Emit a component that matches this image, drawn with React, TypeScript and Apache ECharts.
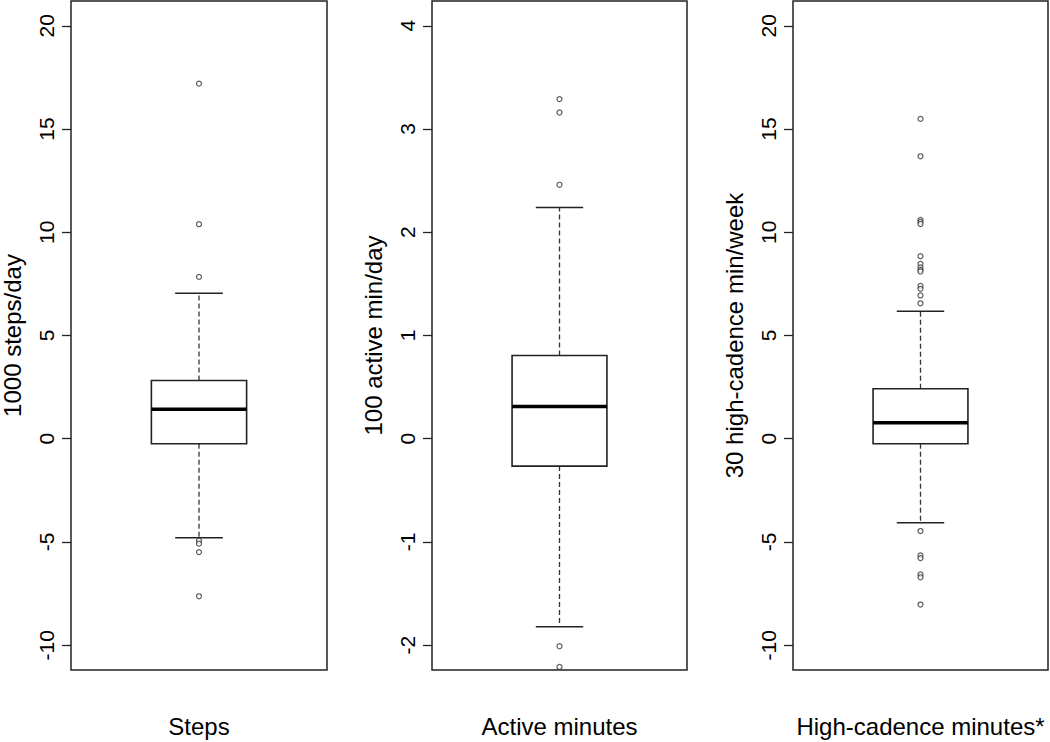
import React, { useEffect, useRef } from "react";
import * as echarts from "echarts";

const categories = ["Steps", "Active minutes", "High-cadence minutes*"];
const yTitles = ["1000 steps/day", "100 active min/day", "30 high-cadence min/week"];

// [lower whisker, Q1, median, Q3, upper whisker]
const stepsBox = [-4.79, -0.24, 1.43, 2.82, 7.05];
const activeBox = [-1.82, -0.265, 0.313, 0.806, 2.24];
const cadenceBox = [-4.07, -0.24, 0.77, 2.42, 6.18];

const stepsOutliers = [17.2, 10.39, 7.84, -4.94, -5.08, -5.49, -7.63];
const activeOutliers = [3.29, 3.16, 2.46, -2.01, -2.21];
const cadenceOutliers = [
  15.49, 13.68, 10.6, 10.5, 10.4, 8.84, 8.47, 8.3, 8.18, 8.1, 7.4, 7.26, 6.94, 6.56,
  -4.47, -5.65, -5.78, -6.57, -6.71, -8.03,
];

const stepsTicks = [-10, -5, 0, 5, 10, 15, 20];
const activeTicks = [-2, -1, 0, 1, 2, 3, 4];
const cadenceTicks = [-10, -5, 0, 5, 10, 15, 20];

const axisMin = [-11.2, -2.24, -11.2];
const axisMax = [21.2, 4.24, 21.2];

const boxes = [stepsBox, activeBox, cadenceBox];
const outliers = [stepsOutliers, activeOutliers, cadenceOutliers];
const ticks = [stepsTicks, activeTicks, cadenceTicks];

const FONT = "'Liberation Sans', Arial, Helvetica, sans-serif";
const INK = "#222";

export default function App() {
  const ref = useRef<HTMLDivElement>(null);
  useEffect(() => {
    if (!ref.current) return;
    const chart = echarts.init(ref.current, undefined, { renderer: "svg" });
    const lefts = [71, 432, 793];
    const widths = [256, 255, 255];
    const grid = lefts.map((l, i) => ({
      left: l,
      top: 1,
      width: widths[i],
      height: 669,
      show: true,
      borderColor: INK,
      borderWidth: 1.5,
      backgroundColor: "transparent",
      containLabel: false,
      outerBoundsMode: "none",
    }));
    const xAxis = categories.map((c, i) => ({
      type: "category",
      gridIndex: i,
      data: [c],
      axisLine: { show: false },
      axisTick: { show: false },
      axisLabel: { fontFamily: FONT, fontSize: 24, color: "#000", margin: 44 },
    }));
    const yAxis = ticks.map((t, i) => ({
      type: "value",
      gridIndex: i,
      min: axisMin[i],
      max: axisMax[i],
      splitLine: { show: false },
      axisLine: { show: false },
      axisTick: {
        show: true,
        inside: false,
        length: 9,
        customValues: t,
        lineStyle: { color: INK, width: 1.3 },
      },
      axisLabel: {
        customValues: t,
        rotate: 90,
        fontFamily: FONT,
        fontSize: 21,
        color: "#000",
        margin: 14,
      },
      name: yTitles[i],
      nameLocation: "middle",
      nameRotate: 90,
      nameGap: 47,
      nameTextStyle: { fontFamily: FONT, fontSize: 24, lineHeight: 24, color: "#000" },
    }));
    const series: any[] = [];
    boxes.forEach((b, i) => {
      series.push({
        type: "custom",
        xAxisIndex: i,
        yAxisIndex: i,
        data: [[0, ...b]],
        encode: { x: 0, y: [1, 2, 3, 4, 5] },
        renderItem: (params: any, api: any) => {
          const lo = api.value(1);
          const q1 = api.value(2);
          const med = api.value(3);
          const q3 = api.value(4);
          const hi = api.value(5);
          const cx = api.coord([0, med])[0];
          const yLo = api.coord([0, lo])[1];
          const yQ1 = api.coord([0, q1])[1];
          const yMed = api.coord([0, med])[1];
          const yQ3 = api.coord([0, q3])[1];
          const yHi = api.coord([0, hi])[1];
          const band = api.size([1, 0])[0];
          const bw = band * 0.372;
          const cw = bw / 2;
          const dash = { stroke: "#333", lineWidth: 1.3, lineDash: [5, 3] };
          const solid = { stroke: INK, lineWidth: 1.5 };
          return {
            type: "group",
            children: [
              { type: "line", shape: { x1: cx, y1: yQ3, x2: cx, y2: yHi }, style: dash },
              { type: "line", shape: { x1: cx, y1: yQ1, x2: cx, y2: yLo }, style: dash },
              { type: "line", shape: { x1: cx - cw / 2, y1: yHi, x2: cx + cw / 2, y2: yHi }, style: solid },
              { type: "line", shape: { x1: cx - cw / 2, y1: yLo, x2: cx + cw / 2, y2: yLo }, style: solid },
              {
                type: "rect",
                shape: { x: cx - bw / 2, y: yQ3, width: bw, height: yQ1 - yQ3 },
                style: { fill: "#fff", stroke: INK, lineWidth: 1.6 },
              },
              {
                type: "line",
                shape: { x1: cx - bw / 2, y1: yMed, x2: cx + bw / 2, y2: yMed },
                style: { stroke: "#000", lineWidth: 3.5 },
              },
            ],
          };
        },
      });
      series.push({
        type: "scatter",
        xAxisIndex: i,
        yAxisIndex: i,
        data: outliers[i].map((v) => [0, v]),
        symbol: "circle",
        symbolSize: 5,
        itemStyle: { color: "#fff", borderColor: "#333", borderWidth: 1.2 },
        z: 5,
      });
    });
    chart.setOption({
      animation: false,
      backgroundColor: "#fff",
      grid,
      xAxis,
      yAxis,
      series,
    });
    return () => chart.dispose();
  }, []);
  return (
    <div
      ref={ref}
      style={{ position: "absolute", left: 0, top: 0, width: 1050, height: 742 }}
    />
  );
}
